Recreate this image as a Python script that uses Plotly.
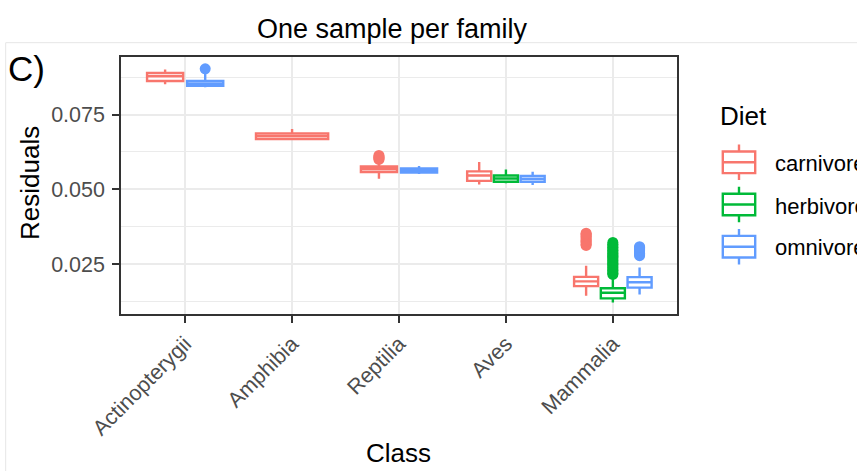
import plotly.graph_objects as go

# ---- data -----------------------------------------------------------------
classes = ["Actinopterygii", "Amphibia", "Reptilia", "Aves", "Mammalia"]
diets = ["carnivore", "herbivore", "omnivore"]
diet_colors = ["#F8766D", "#00BA38", "#619CFF"]

# box statistics per class (None = diet absent in that class)
carnivore_lower = [0.0851, 0.0665, 0.0535, 0.0516, 0.0144]
carnivore_q1 = [0.0862, 0.0668, 0.0558, 0.0528, 0.0176]
carnivore_median = [0.0878, 0.0678, 0.0568, 0.0546, 0.0192]
carnivore_q3 = [0.0889, 0.0687, 0.0576, 0.0560, 0.0207]
carnivore_upper = [0.0901, 0.0702, 0.0588, 0.0591, 0.0244]

herbivore_lower = [None, None, None, 0.0520, 0.0121]
herbivore_q1 = [None, None, None, 0.0525, 0.0135]
herbivore_median = [None, None, None, 0.0536, 0.0154]
herbivore_q3 = [None, None, None, 0.0546, 0.0169]
herbivore_upper = [None, None, None, 0.0566, 0.0200]

omnivore_lower = [0.0841, None, 0.0551, 0.0514, 0.0148]
omnivore_q1 = [0.0846, None, 0.0556, 0.0525, 0.0171]
omnivore_median = [0.0853, None, 0.0563, 0.0535, 0.0189]
omnivore_q3 = [0.0862, None, 0.0570, 0.0545, 0.0206]
omnivore_upper = [0.0887, None, 0.0578, 0.0559, 0.0238]

# outlying residuals per class
carnivore_outliers = [
    [], [],
    [0.0600, 0.0603, 0.0606, 0.0609, 0.0613],
    [],
    [0.0312, 0.0316, 0.0321, 0.0325, 0.0329, 0.0334, 0.0338, 0.0343,
     0.0347, 0.0350, 0.0353],
]
herbivore_outliers = [
    [], [], [], [],
    [0.0215, 0.0219, 0.0224, 0.0229, 0.0233, 0.0238, 0.0243, 0.0248,
     0.0252, 0.0257, 0.0262, 0.0267, 0.0272, 0.0276, 0.0281, 0.0286,
     0.0291, 0.0296, 0.0301, 0.0306, 0.0311, 0.0316, 0.0322],
]
omnivore_outliers = [
    [0.0903], [], [], [],
    [0.0278, 0.0282, 0.0286, 0.0290, 0.0294, 0.0298, 0.0302, 0.0305, 0.0308],
]

stats = {
    "carnivore": (carnivore_lower, carnivore_q1, carnivore_median,
                  carnivore_q3, carnivore_upper, carnivore_outliers),
    "herbivore": (herbivore_lower, herbivore_q1, herbivore_median,
                  herbivore_q3, herbivore_upper, herbivore_outliers),
    "omnivore": (omnivore_lower, omnivore_q1, omnivore_median,
                 omnivore_q3, omnivore_upper, omnivore_outliers),
}

y_ticks = [0.025, 0.050, 0.075]
y_tick_labels = ["0.025", "0.050", "0.075"]
y_minor = [0.0125, 0.0375, 0.0625, 0.0875]

# ---- figure geometry (pixels) --------------------------------------------
W, H = 857, 471
FONT = "Liberation Sans, Arial, Helvetica, sans-serif"
BOX_LINE = 2.4


def px_x(p):
    return p / W


def px_y(p):
    return 1 - p / H


fig = go.Figure()

# dodged boxplots: boxes of a class share 0.75 units, 10% padding each
for ci, cls in enumerate(classes):
    present = [d for d in diets if stats[d][1][ci] is not None]
    n = len(present)
    slot = 0.75 / n
    for k, d in enumerate(present):
        lo, q1, med, q3, up, outl = stats[d]
        color = diet_colors[diets.index(d)]
        xpos = ci + 1 - 0.375 + (k + 0.5) * slot
        fig.add_trace(go.Box(
            x=[xpos], q1=[q1[ci]], median=[med[ci]], q3=[q3[ci]],
            lowerfence=[lo[ci]], upperfence=[up[ci]],
            width=slot * 0.9, whiskerwidth=0, fillcolor="white",
            line=dict(color=color, width=BOX_LINE),
            boxpoints=False, name=d, legendgroup=d, showlegend=False,
            hoverinfo="y",
        ))
        if outl[ci]:
            fig.add_trace(go.Scatter(
                x=[xpos] * len(outl[ci]), y=outl[ci], mode="markers",
                marker=dict(color=color, size=11, line=dict(width=0)),
                name=d, legendgroup=d, showlegend=False,
            ))

# legend keys drawn as small boxplot glyphs on their own axes
key_pos = [3, 2, 1]
for d, color, yk in zip(diets, diet_colors, key_pos):
    fig.add_trace(go.Box(
        x=[0.5], q1=[yk - 0.256], median=[yk], q3=[yk + 0.256],
        lowerfence=[yk - 0.42], upperfence=[yk + 0.42],
        width=0.9, whiskerwidth=0, fillcolor="white",
        line=dict(color=color, width=BOX_LINE),
        boxpoints=False, xaxis="x2", yaxis="y2", showlegend=False,
        hoverinfo="skip",
    ))

fig.update_layout(
    width=W, height=H,
    margin=dict(l=0, r=0, t=0, b=0, autoexpand=False),
    paper_bgcolor="white", plot_bgcolor="white",
    boxmode="overlay", showlegend=False,
    font=dict(family=FONT, color="#000000"),
    xaxis=dict(
        domain=[px_x(121), px_x(677)], range=[0.4, 5.6],
        tickvals=[1, 2, 3, 4, 5], ticktext=classes, tickangle=-45,
        tickfont=dict(size=21.5, color="#4d4d4d", family=FONT),
        showgrid=True, gridcolor="#ebebeb", gridwidth=2,
        zeroline=False, showline=True, mirror=True,
        linecolor="#333333", linewidth=1.5,
        ticks="outside", ticklen=7, tickwidth=1.5, tickcolor="#333333",
        anchor="y", automargin=False,
    ),
    yaxis=dict(
        domain=[px_y(314), px_y(57)], range=[0.00828, 0.09425],
        tickvals=y_ticks, ticktext=y_tick_labels,
        tickfont=dict(size=21.5, color="#4d4d4d", family=FONT),
        showgrid=True, gridcolor="#ebebeb", gridwidth=2,
        minor=dict(tickvals=y_minor, showgrid=True, gridcolor="#ebebeb",
                   gridwidth=1, ticks=""),
        zeroline=False, showline=True, mirror=True,
        linecolor="#333333", linewidth=1.5,
        ticks="outside", ticklen=7, tickwidth=1.5, tickcolor="#333333",
        ticklabelstandoff=3, anchor="x", automargin=False,
    ),
    xaxis2=dict(domain=[px_x(721), px_x(757)], range=[0, 1], visible=False,
                anchor="y2", fixedrange=True, automargin=False),
    yaxis2=dict(domain=[px_y(267.8), px_y(141.2)], range=[0.5, 3.5],
                visible=False, anchor="x2", fixedrange=True,
                automargin=False),
)

# outer frame of the panel
fig.add_shape(type="rect", xref="paper", yref="paper",
              x0=px_x(5.7), x1=1.05, y0=-0.05, y1=px_y(42.7),
              line=dict(color="#e6e6e6", width=1), layer="below")

annotations = [
    dict(text="One sample per family", x=px_x(392.5), y=px_y(29),
         xanchor="center", yanchor="middle", font=dict(size=27)),
    dict(text="C)", x=px_x(6), y=px_y(69), xanchor="left",
         yanchor="middle", font=dict(size=35)),
    dict(text="Residuals", x=px_x(30), y=px_y(183), textangle=-90,
         xanchor="center", yanchor="middle", font=dict(size=26)),
    dict(text="Class", x=px_x(398), y=px_y(453), xanchor="center",
         yanchor="middle", font=dict(size=26)),
    dict(text="Diet", x=px_x(718), y=px_y(116), xanchor="left",
         yanchor="middle", font=dict(size=26)),
]
for d, yc in zip(diets, [162.3, 205.0, 246.7]):
    annotations.append(dict(text=d, x=px_x(773), y=px_y(yc + 1),
                            xanchor="left", yanchor="middle",
                            font=dict(size=22)))
for a in annotations:
    a.update(xref="paper", yref="paper", showarrow=False)
    a["font"].update(family=FONT, color="#000000")
fig.update_layout(annotations=annotations)

fig.write_html("out.html")
